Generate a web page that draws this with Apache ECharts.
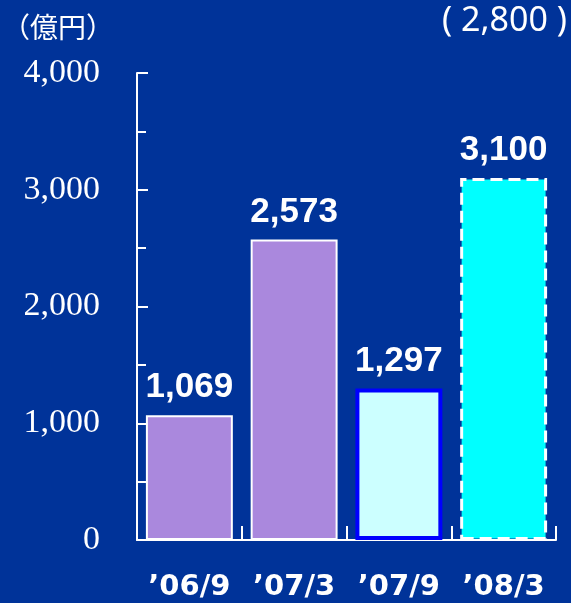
<!DOCTYPE html>
<html>
<head>
<meta charset="utf-8">
<script src="https://cdn.jsdelivr.net/npm/echarts@6/dist/echarts.min.js"></script>
<style>
html,body{margin:0;padding:0;background:#003399;}
#chart{width:571px;height:603px;}
</style>
</head>
<body>
<div id="chart"></div>
<script>
var periods = ["\u201906/9", "\u201907/3", "\u201907/9", "\u201908/3"];
var amounts = [1069, 2573, 1297, 3100];
var yTicks = [0, 1000, 2000, 3000, 4000];

var barStyles = [
    {color: '#aa88dd', borderColor: '#ffffff', borderWidth: 2},
    {color: '#aa88dd', borderColor: '#ffffff', borderWidth: 2},
    {color: '#ccffff', borderColor: '#0000ff', borderWidth: 4},
    {color: '#00ffff', borderColor: '#ffffff', borderWidth: 3, borderType: [12, 6]}
];

var chart = echarts.init(document.getElementById('chart'));
chart.setOption({
    backgroundColor: '#003399',
    animation: false,
    grid: {left: 137, right: 15, top: 73, bottom: 63},
    graphic: [
        {type: 'text', left: 2, top: 13, style: {text: '\uff08\u5104\u5186\uff09', fill: '#fff', font: '28px "Noto Sans CJK JP"'}},
        {type: 'text', right: 4, top: 4, style: {text: '( 2,800 )', fill: '#fff', font: '34px "Noto Sans"'}}
    ],
    xAxis: {
        type: 'category',
        data: periods,
        axisLine: {lineStyle: {color: '#fff', width: 2}},
        axisTick: {show: true, inside: true, length: 14, lineStyle: {color: '#fff', width: 2}},
        axisLabel: {interval: 0, color: '#fff', fontSize: 29, fontWeight: 'bold', fontFamily: 'DejaVu Sans', margin: 33}
    },
    yAxis: {
        type: 'value',
        min: 0,
        max: 4000,
        interval: 1000,
        axisLine: {show: true, lineStyle: {color: '#fff', width: 2}},
        axisTick: {show: true, inside: true, length: 11, lineStyle: {color: '#fff', width: 2}},
        minorTick: {show: true, splitNumber: 2, length: 9, lineStyle: {color: '#fff', width: 2}},
        splitLine: {show: false},
        axisLabel: {
            color: '#fff', fontSize: 34, fontFamily: 'Liberation Serif', margin: 37,
            formatter: function (v) { return yTicks.indexOf(v) >= 0 ? v.toLocaleString('en-US') : ''; }
        }
    },
    series: [{
        type: 'bar',
        barCategoryGap: '17%',
        data: amounts.map(function (v, i) {
            return {value: v, itemStyle: barStyles[i]};
        }),
        label: {
            show: true,
            position: 'top',
            distance: 10,
            color: '#fff',
            fontSize: 35,
            fontWeight: 'bold',
            fontFamily: 'Liberation Sans',
            formatter: function (p) { return p.value.toLocaleString('en-US'); }
        }
    }]
});
</script>
</body>
</html>
